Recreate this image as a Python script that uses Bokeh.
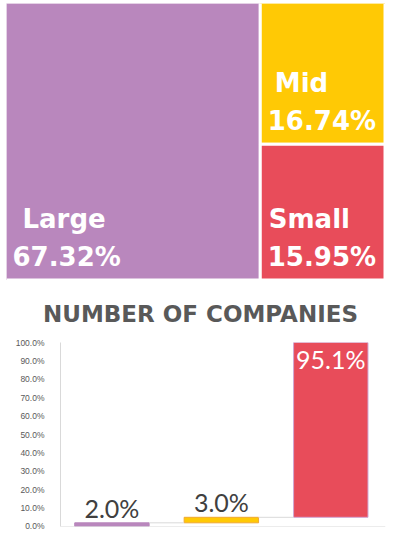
import numpy as np
from bokeh.plotting import figure
from bokeh.models import (Range1d, ColumnDataSource, NumeralTickFormatter,
                          SingleIntervalTicker, Span, LabelSet, Label)
from bokeh.core.properties import value
from bokeh.embed import file_html
from bokeh.resources import INLINE

# ---------------- data ----------------
segments = ["Large", "Mid", "Small"]
market_cap_share = [67.32, 16.74, 15.95]      # % of market cap (treemap)
company_share = [2.0, 3.0, 95.1]              # % of number of companies (waterfall)
colors = ["#B987BD", "#FFC905", "#E84C5A"]
chart_title = "NUMBER OF COMPANIES"

# ---------------- treemap ----------------
box_w, box_h = 377.0, 275.0
total = sum(market_cap_share)
large_w = box_w * market_cap_share[0] / total
rest = market_cap_share[1] + market_cap_share[2]
mid_h = box_h * market_cap_share[1] / rest
pad = 1.5
lefts = [0 - pad, large_w, large_w]
rights = [large_w, box_w + pad, box_w + pad]
tops = [0 - pad, 0 - pad, mid_h]
bottoms = [box_h + pad, mid_h, box_h + pad]

tm = ColumnDataSource(dict(left=lefts, right=rights, top=tops, bottom=bottoms,
                           color=colors))

p1_h = 327
p1 = figure(width=385, height=p1_h, x_range=Range1d(0, 385), y_range=Range1d(p1_h, 0),
            toolbar_location=None, output_backend="svg", min_border=0,
            x_axis_location=None, y_axis_location=None, outline_line_color=None,
            margin=(3, 0, 0, 6))
p1.grid.visible = False
p1.quad(left="left", right="right", top="top", bottom="bottom", fill_color="color",
        line_color="white", line_width=3, source=tm)

name_dx = [16, 13, 7]
name_x = [l + pad + d for l, d in zip(lefts, name_dx)]
val_x = [l + pad + 6 for l in lefts]
name_y = [b - pad - 60 for b in bottoms]
val_y = [b - pad - 22 for b in bottoms]
lab = ColumnDataSource(dict(nx=name_x, ny=name_y, vx=val_x, vy=val_y,
                            name=segments, val=[f"{v:.2f}%" for v in market_cap_share]))
for xs_, ys_, ts_ in (("nx", "ny", "name"), ("vx", "vy", "val")):
    p1.text(x=xs_, y=ys_, text=ts_, source=lab, text_font=value("DejaVu Sans"),
            text_font_style="bold", text_font_size="26px", text_color="white",
            text_baseline="middle", text_align="left")

# title of the bar chart, placed just below the treemap
p1.add_layout(Label(x=194, y=310, text=chart_title, text_font="DejaVu Sans",
                    text_font_style="bold", text_font_size="23px", text_color="#595959",
                    text_align="center", text_baseline="middle"))

# ---------------- waterfall bar chart ----------------
vals = np.array(company_share) / 100.0
tops_b = np.cumsum(vals)
bottoms_b = tops_b - vals
xs = np.arange(len(segments))
bar_w = 0.68

p2 = figure(width=385, height=200, x_range=Range1d(-0.47, 2.5), y_range=Range1d(0, 1.0),
            toolbar_location=None, output_backend="svg",
            min_border_left=54, min_border_right=6, min_border_top=12, min_border_bottom=4,
            outline_line_color=None, margin=(0, 0, 0, 6))
p2.xaxis.visible = False
p2.grid.visible = False
p2.yaxis.ticker = SingleIntervalTicker(interval=0.1)
p2.yaxis.formatter = NumeralTickFormatter(format="0.0%")
p2.yaxis.major_tick_line_color = None
p2.yaxis.minor_tick_line_color = None
p2.yaxis.axis_line_color = "#D9D9D9"
p2.yaxis.major_label_text_font = "Liberation Sans"
p2.yaxis.major_label_text_font_size = "8.5px"
p2.yaxis.major_label_text_color = "#595959"
p2.yaxis.major_label_standoff = 10

p2.add_layout(Span(location=0, dimension="width", line_color="#D9D9D9", line_width=1))

bsrc = ColumnDataSource(dict(x=xs, top=tops_b, bottom=bottoms_b, color=colors,
                             line=["#B987BD", "#F0A830", "#CFA6D3"]))
p2.vbar(x="x", top="top", bottom="bottom", width=bar_w, fill_color="color",
        line_color="line", line_width=1, source=bsrc)

# connectors
p2.segment(x0=xs[:-1] + bar_w / 2, x1=xs[1:] - bar_w / 2, y0=tops_b[:-1], y1=tops_b[:-1],
           line_color="#D9D9D9", line_width=1)

inside = vals > 0.5
out_src = ColumnDataSource(dict(x=xs[~inside], y=tops_b[~inside],
                                t=[f"{v:.1f}%" for v in np.array(company_share)[~inside]]))
in_src = ColumnDataSource(dict(x=xs[inside], y=np.minimum(tops_b[inside], 1.0),
                               t=[f"{v:.1f}%" for v in np.array(company_share)[inside]]))
p2.add_layout(LabelSet(x="x", y="y", text="t", source=out_src, text_align="center",
                       text_baseline="bottom", y_offset=0, text_font=value("Lato"),
                       text_font_size="25px", text_color="#404040"))
p2.add_layout(LabelSet(x="x", y="y", text="t", source=in_src, text_align="center",
                       text_baseline="top", y_offset=-1, text_font=value("Lato"),
                       text_font_size="25px", text_color="white"))

open("out.html", "w").write(file_html([p1, p2], INLINE))
